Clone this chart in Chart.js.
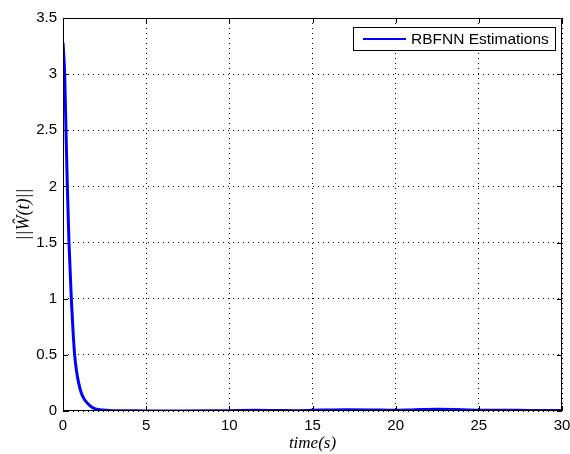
<!DOCTYPE html>
<html lang="en">
<head>
  <meta charset="UTF-8">
  <title>RBFNN Estimations</title>
  <style>
    body {
      margin: 0;
      background: #fff;
    }
    .wrap {
      width: 570px;
      height: 454px;
    }
  </style>
  <script src="https://cdn.jsdelivr.net/npm/chart.js"></script>
</head>
<body>
  <div class="wrap">
    <canvas id="normChart" width="570" height="454"></canvas>
  </div>

  <script>
    // Values
    const times = [0, 0.1, 0.18, 0.26, 0.36, 0.5, 0.6, 0.7, 0.8, 0.94, 1.1, 1.3, 1.6, 1.9, 2.2, 2.6, 3, 4, 5, 7, 9, 10, 11.5, 13, 14, 15.5, 17, 18.5, 20, 21, 22.5, 24, 25, 26.5, 28, 30];
    const normValues = [3.28, 3.0, 2.5, 2.0, 1.5, 1.0, 0.72, 0.5, 0.37, 0.25, 0.16, 0.1, 0.05, 0.022, 0.012, 0.006, 0.003, 0.002, 0.001, 0.001, 0.002, 0.003, 0.006, 0.004, 0.003, 0.008, 0.012, 0.01, 0.006, 0.01, 0.016, 0.012, 0.006, 0.007, 0.005, 0.004];
    const seriesLabel = 'RBFNN Estimations';
    const xTicks = [0, 5, 10, 15, 20, 25, 30];
    const yTicks = [0, 0.5, 1, 1.5, 2, 2.5, 3, 3.5];

    const points = times.map((t, i) => ({ x: t, y: normValues[i] }));

    // box, inner ticks and legend in MATLAB style
    const matlabFrame = {
      id: 'matlabFrame',
      afterDatasetsDraw(chart) {
        const { ctx, chartArea: a, scales } = chart;
        ctx.save();
        ctx.strokeStyle = '#000';
        ctx.lineWidth = 1;
        ctx.setLineDash([]);
        // inner ticks
        ctx.beginPath();
        xTicks.forEach(v => {
          const px = Math.round(scales.x.getPixelForValue(v)) + 0.5;
          ctx.moveTo(px, a.bottom); ctx.lineTo(px, a.bottom - 5);
          ctx.moveTo(px, a.top); ctx.lineTo(px, a.top + 5);
        });
        yTicks.forEach(v => {
          const py = Math.round(scales.y.getPixelForValue(v)) + 0.5;
          ctx.moveTo(a.left, py); ctx.lineTo(a.left + 5, py);
          ctx.moveTo(a.right, py); ctx.lineTo(a.right - 5, py);
        });
        ctx.stroke();
        ctx.strokeRect(a.left + 0.5, a.top + 0.5, a.right - a.left - 1, a.bottom - a.top - 1);

        // legend
        const lx = 353, ly = 27, lw = 202, lh = 23;
        ctx.fillStyle = '#fff';
        ctx.fillRect(lx, ly, lw, lh);
        ctx.strokeRect(lx + 0.5, ly + 0.5, lw, lh);
        ctx.strokeStyle = '#0000ff';
        ctx.lineWidth = 2;
        ctx.beginPath();
        ctx.moveTo(363, ly + lh / 2 + 0.5);
        ctx.lineTo(406, ly + lh / 2 + 0.5);
        ctx.stroke();
        ctx.fillStyle = '#000';
        ctx.font = '15.5px "Liberation Sans", Arial, sans-serif';
        ctx.textBaseline = 'middle';
        ctx.fillText(chart.data.datasets[0].label, 411, ly + lh / 2 + 1);
        ctx.restore();
      }
    };

    const ctx = document.getElementById('normChart').getContext('2d');
    const chart = new Chart(ctx, {
      type: 'line',
      data: {
        datasets: [{
          label: seriesLabel,
          data: points,
          borderColor: '#0000ff',
          borderWidth: 3,
          pointRadius: 0,
          fill: false,
          cubicInterpolationMode: 'monotone'
        }]
      },
      options: {
        responsive: false,
        animation: false,
        layout: {
          padding: { left: 0, right: 8, top: 18, bottom: 0 }
        },
        scales: {
          x: {
            type: 'linear',
            min: 0,
            max: 30,
            afterBuildTicks: s => { s.ticks = xTicks.map(v => ({ value: v })); },
            afterFit: s => { s.height = 43; s.paddingRight = 0; s.paddingLeft = 0; },
            border: { display: false, dash: [1, 4] },
            grid: {
              color: '#000',
              lineWidth: 1,
              drawTicks: false
            },
            ticks: {
              color: '#000',
              padding: 6,
              maxRotation: 0,
              callback: v => String(v),
              font: { family: '"Liberation Sans", Arial, sans-serif', size: 15 }
            },
            title: {
              display: true,
              text: 'time(s)',
              color: '#000',
              padding: { top: 0, bottom: 0 },
              font: { family: '"Liberation Serif", "DejaVu Serif", serif', size: 17, style: 'italic' }
            }
          },
          y: {
            min: 0,
            max: 3.5,
            afterBuildTicks: s => { s.ticks = yTicks.map(v => ({ value: v })); },
            afterFit: s => { s.width = 63; s.paddingTop = 0; s.paddingBottom = 0; },
            border: { display: false, dash: [1, 4] },
            grid: {
              color: '#000',
              lineWidth: 1,
              drawTicks: false
            },
            ticks: {
              color: '#000',
              padding: 6,
              callback: v => String(v),
              font: { family: '"Liberation Sans", Arial, sans-serif', size: 15 }
            },
            title: {
              display: true,
              text: '||Ŵ(t)||',
              color: '#000',
              padding: { top: 13, bottom: 0 },
              font: { family: '"Liberation Serif", "DejaVu Serif", serif', size: 18, style: 'italic' }
            }
          }
        },
        plugins: {
          legend: { display: false },
          tooltip: { enabled: false }
        }
      },
      plugins: [matlabFrame]
    });
  </script>
</body>
</html>
